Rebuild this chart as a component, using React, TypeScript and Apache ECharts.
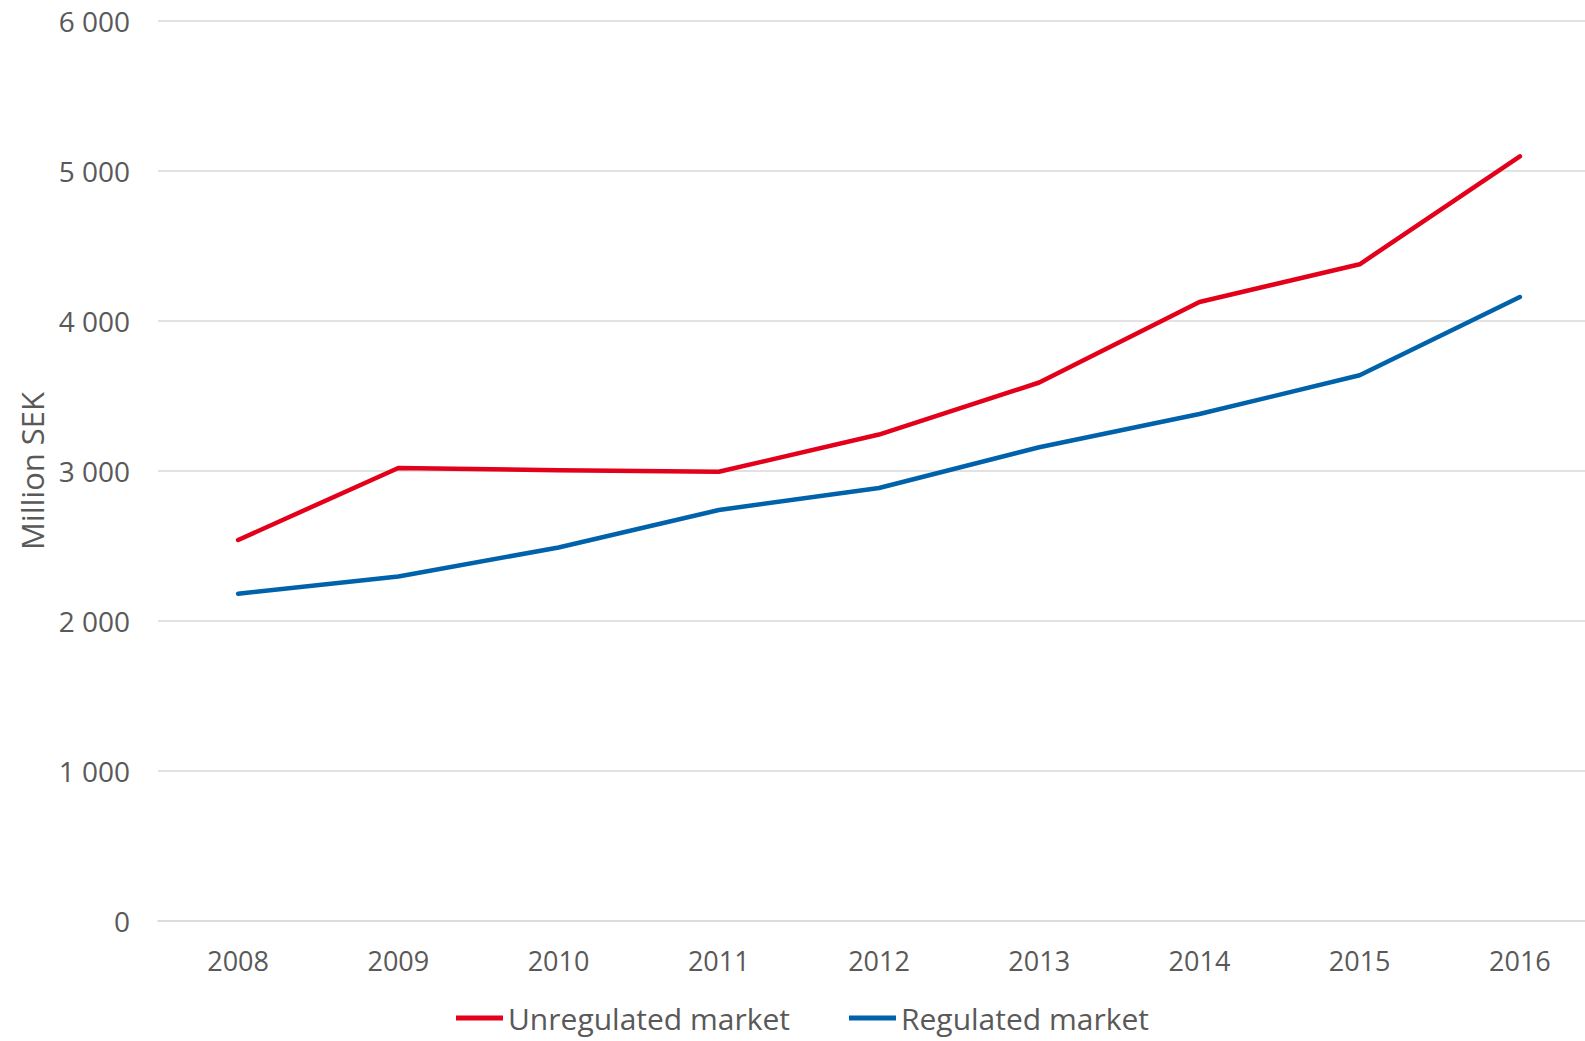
import React, { useEffect, useRef } from "react";
import * as echarts from "echarts";

const years = ["2008", "2009", "2010", "2011", "2012", "2013", "2014", "2015", "2016"];
const unregulated = [2540, 3020, 3005, 2995, 3243, 3590, 4127, 4378, 5098];
const regulated = [2182, 2297, 2490, 2740, 2887, 3158, 3380, 3638, 4160];
const seriesNames = ["Unregulated market", "Regulated market"];
const yAxisName = "Million SEK";

const RED = "#E2001A";
const BLUE = "#0062AA";
const TEXT = "#595959";
const FONT = "Open Sans";

export default function App() {
  const ref = useRef<HTMLDivElement>(null);
  useEffect(() => {
    document.body.style.margin = "0";
    const chart = echarts.init(ref.current!, null, { renderer: "svg" });
    chart.setOption({
      animation: false,
      backgroundColor: "#ffffff",
      textStyle: { fontFamily: FONT },
      grid: {
        left: 158,
        top: 21,
        width: 1442,
        height: 900,
        containLabel: false,
        outerBoundsMode: "none",
      },
      legend: {
        left: 456,
        top: 1003,
        padding: 0,
        itemWidth: 47,
        itemHeight: 5,
        itemGap: 59,
        icon: "rect",
        textStyle: { fontSize: 30, color: TEXT, fontFamily: FONT, lineHeight: 30 },
        data: seriesNames,
      },
      xAxis: {
        type: "category",
        data: years,
        boundaryGap: true,
        axisLine: { show: true, lineStyle: { color: "#d9d9d9", width: 1.5 } },
        axisTick: { show: false },
        axisLabel: { color: TEXT, fontSize: 27, margin: 26, fontFamily: FONT },
      },
      yAxis: {
        type: "value",
        min: 0,
        max: 6000,
        interval: 1000,
        name: yAxisName,
        nameLocation: "middle",
        nameRotate: 90,
        nameGap: 109,
        nameTextStyle: { fontSize: 31, color: TEXT, fontFamily: FONT },
        axisLine: { show: false },
        axisTick: { show: false },
        splitLine: { lineStyle: { color: "#d9d9d9", width: 1.5 } },
        axisLabel: {
          color: TEXT,
          fontSize: 28,
          margin: 28,
          fontFamily: FONT,
          formatter: (v: number) => String(v).replace(/\B(?=(\d{3})+(?!\d))/g, " "),
        },
      },
      series: [
        {
          name: seriesNames[0],
          type: "line",
          data: unregulated,
          showSymbol: false,
          symbol: "none",
          lineStyle: { color: RED, width: 4.5, cap: "round", join: "round" },
          itemStyle: { color: RED },
        },
        {
          name: seriesNames[1],
          type: "line",
          data: regulated,
          showSymbol: false,
          symbol: "none",
          lineStyle: { color: BLUE, width: 4.5, cap: "round", join: "round" },
          itemStyle: { color: BLUE },
        },
      ],
    });
    return () => chart.dispose();
  }, []);
  return (
    <div
      ref={ref}
      style={{ position: "fixed", left: 0, top: 0, width: 1585, height: 1041 }}
    />
  );
}
